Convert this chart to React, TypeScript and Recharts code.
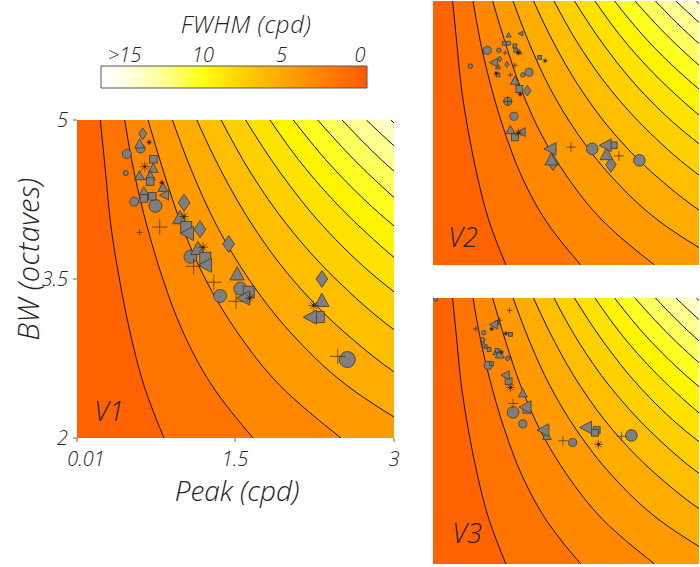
import React from "react";
import {
  ComposedChart,
  Area,
  Scatter,
  XAxis,
  YAxis,
  CartesianGrid,
  BarChart,
  Bar,
} from "recharts";

// contour grid: peak (cpd) where each FWHM contour crosses a given bandwidth
const BW_LEVELS = [2, 2.5, 3, 3.5, 4, 4.5, 5];
const FWHM_LEVELS = [1.25, 2.5, 3.75, 5, 6.25, 7.5, 8.75, 10, 11.25, 12.5, 13.75, 15, 16.25];
const CONTOUR_PEAKS = [
  [0.83, 0.64, 0.51, 0.41, 0.33, 0.28, 0.23],
  [1.67, 1.28, 1.01, 0.82, 0.67, 0.55, 0.46],
  [2.5, 1.92, 1.52, 1.22, 1.0, 0.83, 0.68],
  [3.33, 2.55, 2.02, 1.63, 1.33, 1.1, 0.91],
  [4.17, 3.19, 2.53, 2.04, 1.67, 1.38, 1.14],
  [5.0, 3.83, 3.03, 2.45, 2.0, 1.65, 1.37],
  [5.83, 4.47, 3.54, 2.85, 2.33, 1.93, 1.6],
  [6.67, 5.11, 4.04, 3.26, 2.67, 2.2, 1.83],
  [7.5, 5.75, 4.55, 3.67, 3.0, 2.47, 2.05],
  [8.33, 6.38, 5.05, 4.08, 3.33, 2.75, 2.28],
  [9.17, 7.02, 5.56, 4.48, 3.67, 3.02, 2.51],
  [10.0, 7.66, 6.06, 4.89, 4.0, 3.3, 2.74],
  [10.8, 8.3, 6.57, 5.3, 4.33, 3.57, 2.97],
];
const BAND_COLORS = [
  "#FF6200", "#FF7400", "#FF8800", "#FF9A00", "#FFAC00", "#FFBE00", "#FFD000",
  "#FFE200", "#FFF400", "#FFFF24", "#FFFF5C", "#FFFF92", "#FFFFC0", "#FFFFE6",
];

const PEAK_TICKS = [0.01, 1.5, 3];
const BW_TICKS = [2, 3.5, 5];
const COLORBAR_TICKS = [15, 10, 5, 0];
const COLORBAR_RANGE = [-0.45, 16.5];

// scatter points: [peak, bw, weight]
type Pt = number[];
const V1_CIRCLES: Pt[] = [[0.61, 4.73, 2], [0.48, 4.68, 2], [0.47, 4.5, 1], [0.55, 4.23, 2], [0.75, 4.19, 3], [1.08, 3.71, 3], [1.36, 3.34, 3], [1.55, 3.41, 3], [2.56, 2.74, 4]];
const V1_TRIANGLES: Pt[] = [[0.6, 4.77, 2], [0.73, 4.54, 2], [0.6, 4.47, 2], [0.7, 4.47, 2], [0.82, 4.36, 2], [0.64, 4.32, 2], [0.98, 4.07, 3], [1.15, 3.78, 3], [1.52, 3.54, 3], [2.32, 3.29, 3]];
const V1_LEFT: Pt[] = [[0.84, 4.29, 2], [1.06, 3.93, 3], [1.23, 3.63, 3], [1.59, 3.32, 3], [2.22, 3.14, 3]];
const V1_DIAMONDS: Pt[] = [[0.63, 4.87, 2], [1.02, 4.22, 3], [1.17, 3.97, 3], [1.44, 3.83, 3], [2.32, 3.5, 3]];
const V1_SQUARES: Pt[] = [[0.73, 4.63, 2], [0.7, 4.42, 2], [0.64, 4.26, 2], [0.72, 4.28, 2], [1.04, 3.99, 3], [1.22, 3.7, 3], [1.63, 3.38, 3], [2.29, 3.14, 3]];
const V1_PLUS: Pt[] = [[0.79, 3.99, 3], [0.6, 3.94, 1], [1.11, 3.62, 3], [1.3, 3.47, 3], [1.51, 3.29, 3], [2.47, 2.77, 3]];
const V1_STARS: Pt[] = [[0.69, 4.79, 1], [0.65, 4.56, 2], [0.81, 4.41, 1], [1.02, 4.09, 2], [1.2, 3.8, 2], [1.64, 3.32, 2], [2.24, 3.25, 2]];

const V2_CIRCLES: Pt[] = [[0.86, 4.52, 1], [0.62, 4.44, 2], [0.75, 4.44, 1], [0.43, 4.26, 1], [1.02, 4.16, 1], [1.09, 4.19, 2], [0.85, 3.86, 2], [0.92, 3.69, 2], [1.8, 3.32, 3], [2.33, 3.19, 3]];
const V2_TRIANGLES: Pt[] = [[0.86, 4.61, 1], [0.98, 4.42, 1], [0.74, 4.25, 1], [0.93, 4.09, 2], [0.88, 3.53, 2], [1.34, 3.19, 3], [1.96, 3.25, 3]];
const V2_LEFT: Pt[] = [[1.0, 4.63, 1], [0.7, 4.3, 2], [1.01, 3.51, 2], [1.34, 3.32, 3], [1.96, 3.36, 3]];
const V2_DIAMONDS: Pt[] = [[0.76, 4.34, 1], [0.84, 4.28, 1], [1.07, 3.98, 2], [1.36, 3.16, 3], [2.01, 3.14, 3]];
const V2_SQUARES: Pt[] = [[0.81, 4.52, 1], [0.93, 4.49, 1], [0.94, 4.44, 1], [0.74, 4.16, 1], [0.98, 4.0, 2], [0.93, 3.45, 2], [1.21, 4.36, 1], [2.04, 3.36, 2]];
const V2_PLUS: Pt[] = [[0.82, 4.41, 1], [0.93, 4.27, 1], [0.88, 4.16, 1], [0.85, 3.86, 2], [1.56, 3.34, 2], [2.1, 3.24, 2]];
const V2_STARS: Pt[] = [[0.97, 4.41, 1], [0.72, 4.18, 1], [0.99, 3.94, 1], [0.97, 3.5, 2], [1.27, 4.32, 1]];

const V3_CIRCLES: Pt[] = [[0.04, 4.99, 1], [0.58, 4.61, 1], [0.57, 4.53, 1], [0.85, 4.32, 1], [0.63, 4.24, 2], [0.91, 3.71, 3], [1.02, 3.58, 2], [2.24, 3.45, 3], [1.58, 3.37, 2]];
const V3_TRIANGLES: Pt[] = [[0.58, 4.47, 1], [0.61, 4.45, 1], [0.71, 4.38, 1], [0.76, 4.36, 2], [1.02, 3.92, 2], [1.29, 3.44, 2]];
const V3_LEFT: Pt[] = [[0.7, 4.7, 2], [0.83, 4.13, 2], [1.06, 3.77, 3], [1.26, 3.51, 3], [1.74, 3.54, 3]];
const V3_DIAMONDS: Pt[] = [];
const V3_SQUARES: Pt[] = [[0.73, 4.72, 1], [0.88, 4.59, 1], [0.64, 4.42, 1], [0.73, 4.41, 1], [0.67, 4.26, 1], [0.86, 4.06, 2], [1.06, 3.74, 2], [1.85, 3.51, 2], [1.83, 3.48, 2]];
const V3_PLUS: Pt[] = [[0.87, 4.86, 1], [0.76, 4.75, 1], [0.49, 4.65, 1], [0.91, 3.81, 2], [2.13, 3.44, 2], [1.47, 3.39, 2]];
const V3_STARS: Pt[] = [[0.67, 4.65, 1], [0.83, 4.6, 1], [0.78, 4.39, 1], [0.88, 3.99, 2], [1.87, 3.35, 2]];

const FONT = "'Open Sans', Lato, 'Liberation Sans', sans-serif";
const INK = "#222";
const RADIUS = [0, 2.5, 4.5, 6.5, 8];

const contourRows = BW_LEVELS.map((bw, i) => {
  const row: Record<string, number> = { bw };
  CONTOUR_PEAKS.forEach((c, k) => (row[`c${k}`] = c[i]));
  return row;
});

const toPoints = (pts: Pt[]) => pts.map(([peak, bw, w]) => ({ peak, bw, w }));

function makeShape(kind: string, scale: number) {
  return (props: any) => {
    const { cx, cy, payload } = props;
    if (cx == null || cy == null) return <g />;
    const r = RADIUS[payload.w] * scale;
    const fill = "#7f7f7f";
    const stroke = "#3a3a3a";
    const sw = 0.8;
    switch (kind) {
      case "circle":
        return <circle cx={cx} cy={cy} r={r} fill={fill} stroke={stroke} strokeWidth={sw} />;
      case "triangle":
        return (
          <polygon
            points={`${cx},${cy - 1.25 * r} ${cx - 1.1 * r},${cy + 0.8 * r} ${cx + 1.1 * r},${cy + 0.8 * r}`}
            fill={fill} stroke={stroke} strokeWidth={sw}
          />
        );
      case "left":
        return (
          <polygon
            points={`${cx - 1.25 * r},${cy} ${cx + 0.8 * r},${cy - 1.1 * r} ${cx + 0.8 * r},${cy + 1.1 * r}`}
            fill={fill} stroke={stroke} strokeWidth={sw}
          />
        );
      case "diamond":
        return (
          <polygon
            points={`${cx},${cy - 1.3 * r} ${cx + 0.9 * r},${cy} ${cx},${cy + 1.3 * r} ${cx - 0.9 * r},${cy}`}
            fill={fill} stroke={stroke} strokeWidth={sw}
          />
        );
      case "square":
        return <rect x={cx - 0.85 * r} y={cy - 0.85 * r} width={1.7 * r} height={1.7 * r} fill={fill} stroke={stroke} strokeWidth={sw} />;
      case "plus": {
        const h = 1.2 * r;
        return (
          <g stroke="#4a3200" strokeWidth={0.9} strokeOpacity={0.85}>
            <line x1={cx - h} y1={cy} x2={cx + h} y2={cy} />
            <line x1={cx} y1={cy - h} x2={cx} y2={cy + h} />
          </g>
        );
      }
      default: {
        const h = 1.1 * r;
        const d = h * 0.7;
        return (
          <g stroke="#3a2400" strokeWidth={0.8} strokeOpacity={0.85}>
            <line x1={cx - h} y1={cy} x2={cx + h} y2={cy} />
            <line x1={cx} y1={cy - h} x2={cx} y2={cy + h} />
            <line x1={cx - d} y1={cy - d} x2={cx + d} y2={cy + d} />
            <line x1={cx - d} y1={cy + d} x2={cx + d} y2={cy - d} />
            <circle cx={cx} cy={cy} r={1.2} fill="#222" stroke="none" />
          </g>
        );
      }
    }
  };
}

function V1XTick(props: any) {
  const { x, y, payload, index } = props;
  const dx = index === 0 ? 9 : 0;
  return (
    <text x={x + dx} y={y} dy={18} textAnchor="middle" fontSize={20} fontStyle="italic" fontWeight={300} fill={INK} fontFamily={FONT}>
      {String(payload.value)}
    </text>
  );
}

function V1YTick(props: any) {
  const { x, y, payload } = props;
  return (
    <text x={x} y={y} dy={7} textAnchor="end" fontSize={20} fontStyle="italic" fontWeight={300} fill={INK} fontFamily={FONT}>
      {String(payload.value)}
    </text>
  );
}

interface PanelProps {
  width: number;
  height: number;
  margin: { top: number; right: number; bottom: number; left: number };
  yAxisWidth: number;
  xAxisHeight: number;
  withLabels: boolean;
  markerScale: number;
  sets: { kind: string; pts: Pt[] }[];
}

function Panel({ width, height, margin, yAxisWidth, xAxisHeight, withLabels, markerScale, sets }: PanelProps) {
  const order = FWHM_LEVELS.map((_, k) => k).reverse();
  return (
    <ComposedChart width={width} height={height} data={contourRows} layout="vertical" margin={margin}>
      <CartesianGrid horizontal={false} vertical={false} fill={BAND_COLORS[13]} stroke="none" />
      <XAxis
        type="number"
        dataKey="peak"
        domain={[0.01, 3]}
        ticks={PEAK_TICKS}
        allowDataOverflow
        axisLine={false}
        height={xAxisHeight}
        tickSize={4}
        tickMargin={6}
        tickLine={{ stroke: "#666" }}
        tick={withLabels ? <V1XTick /> : false}
        interval={0}
      />
      <YAxis
        type="number"
        dataKey="bw"
        domain={[2, 5]}
        ticks={BW_TICKS}
        reversed
        allowDataOverflow
        axisLine={false}
        width={yAxisWidth}
        tickSize={4}
        tickMargin={5}
        tickLine={{ stroke: "#666" }}
        tick={withLabels ? <V1YTick /> : false}
        interval={0}
      />
      {order.map((k) => (
        <Area
          key={`c${k}`}
          dataKey={`c${k}`}
          type="monotone"
          fill={BAND_COLORS[k]}
          fillOpacity={1}
          stroke="#111"
          strokeWidth={1}
          dot={false}
          activeDot={false}
          isAnimationActive={false}
        />
      ))}
      {sets.map((s) => (
        <Scatter
          key={s.kind}
          data={toPoints(s.pts)}
          dataKey="peak"
          shape={makeShape(s.kind, markerScale)}
          isAnimationActive={false}
        />
      ))}
    </ComposedChart>
  );
}

const text = (style: React.CSSProperties): React.CSSProperties => ({
  position: "absolute",
  fontFamily: FONT,
  fontStyle: "italic",
  fontWeight: 300,
  color: INK,
  whiteSpace: "nowrap",
  transform: "translate(-50%, -50%)",
  lineHeight: 1,
  ...style,
});

export default function App() {
  const v1Sets = [
    { kind: "circle", pts: V1_CIRCLES },
    { kind: "diamond", pts: V1_DIAMONDS },
    { kind: "triangle", pts: V1_TRIANGLES },
    { kind: "square", pts: V1_SQUARES },
    { kind: "left", pts: V1_LEFT },
    { kind: "plus", pts: V1_PLUS },
    { kind: "star", pts: V1_STARS },
  ];
  const v2Sets = [
    { kind: "circle", pts: V2_CIRCLES },
    { kind: "diamond", pts: V2_DIAMONDS },
    { kind: "triangle", pts: V2_TRIANGLES },
    { kind: "square", pts: V2_SQUARES },
    { kind: "left", pts: V2_LEFT },
    { kind: "plus", pts: V2_PLUS },
    { kind: "star", pts: V2_STARS },
  ];
  const v3Sets = [
    { kind: "circle", pts: V3_CIRCLES },
    { kind: "diamond", pts: V3_DIAMONDS },
    { kind: "triangle", pts: V3_TRIANGLES },
    { kind: "square", pts: V3_SQUARES },
    { kind: "left", pts: V3_LEFT },
    { kind: "plus", pts: V3_PLUS },
    { kind: "star", pts: V3_STARS },
  ];

  return (
    <div style={{ position: "absolute", left: 0, top: 0, width: 700, height: 567, overflow: "hidden", background: "#fff" }}>
      {/* colour bar */}
      <div style={{ position: "absolute", left: 90, top: 30 }}>
        <BarChart width={290} height={70} data={[{ name: "FWHM", range: COLORBAR_RANGE }]} layout="vertical" margin={{ top: 10, right: 13, bottom: 12, left: 11 }} barCategoryGap={0}>
          <defs>
            <linearGradient id="fwhmGrad" x1="0" y1="0" x2="1" y2="0">
              <stop offset="0" stopColor="#FFFFFF" />
              <stop offset="0.09" stopColor="#FFFFE6" />
              <stop offset="0.24" stopColor="#FFFF92" />
              <stop offset="0.38" stopColor="#FFFF14" />
              <stop offset="0.53" stopColor="#FFD000" />
              <stop offset="0.68" stopColor="#FFA800" />
              <stop offset="0.83" stopColor="#FF8200" />
              <stop offset="1" stopColor="#FF5A00" />
            </linearGradient>
          </defs>
          <XAxis
            type="number"
            orientation="top"
            domain={COLORBAR_RANGE}
            reversed
            ticks={COLORBAR_TICKS}
            interval={0}
            height={26}
            axisLine={false}
            tickLine={false}
            tickSize={0}
            tickMargin={4}
            tickFormatter={(v: number) => (v === 15 ? ">15" : String(v))}
            tick={{ fontSize: 20, fontStyle: "italic", fontWeight: 300, fill: INK, fontFamily: FONT }}
          />
          <YAxis type="category" dataKey="name" hide />
          <Bar dataKey="range" fill="url(#fwhmGrad)" stroke="#555" strokeWidth={1} isAnimationActive={false} />
        </BarChart>
      </div>
      <div style={text({ left: 246, top: 24, fontSize: 24, letterSpacing: 0.6 })}>FWHM (cpd)</div>

      {/* V1 */}
      <div style={{ position: "absolute", left: 0, top: 0 }}>
        <Panel
          width={420}
          height={567}
          margin={{ top: 120, right: 26, bottom: 99, left: 37 }}
          yAxisWidth={40}
          xAxisHeight={30}
          withLabels
          markerScale={1}
          sets={v1Sets}
        />
      </div>
      <div style={text({ left: 27, top: 259, fontSize: 29, letterSpacing: 0.4, transform: "translate(-50%, -50%) rotate(-90deg)" })}>BW (octaves)</div>
      <div style={text({ left: 237, top: 490, fontSize: 28 })}>Peak (cpd)</div>
      <div style={text({ left: 109, top: 410, fontSize: 27 })}>V1</div>

      {/* V2 */}
      <div style={{ position: "absolute", left: 420, top: 0 }}>
        <Panel
          width={280}
          height={290}
          margin={{ top: 1, right: 1, bottom: 15, left: 3 }}
          yAxisWidth={10}
          xAxisHeight={10}
          withLabels={false}
          markerScale={0.9}
          sets={v2Sets}
        />
      </div>
      <div style={text({ left: 463, top: 236, fontSize: 27 })}>V2</div>

      {/* V3 */}
      <div style={{ position: "absolute", left: 420, top: 290 }}>
        <Panel
          width={280}
          height={277}
          margin={{ top: 8, right: 1, bottom: 0, left: 3 }}
          yAxisWidth={10}
          xAxisHeight={3}
          withLabels={false}
          markerScale={0.9}
          sets={v3Sets}
        />
      </div>
      <div style={text({ left: 467, top: 532, fontSize: 27 })}>V3</div>
    </div>
  );
}
